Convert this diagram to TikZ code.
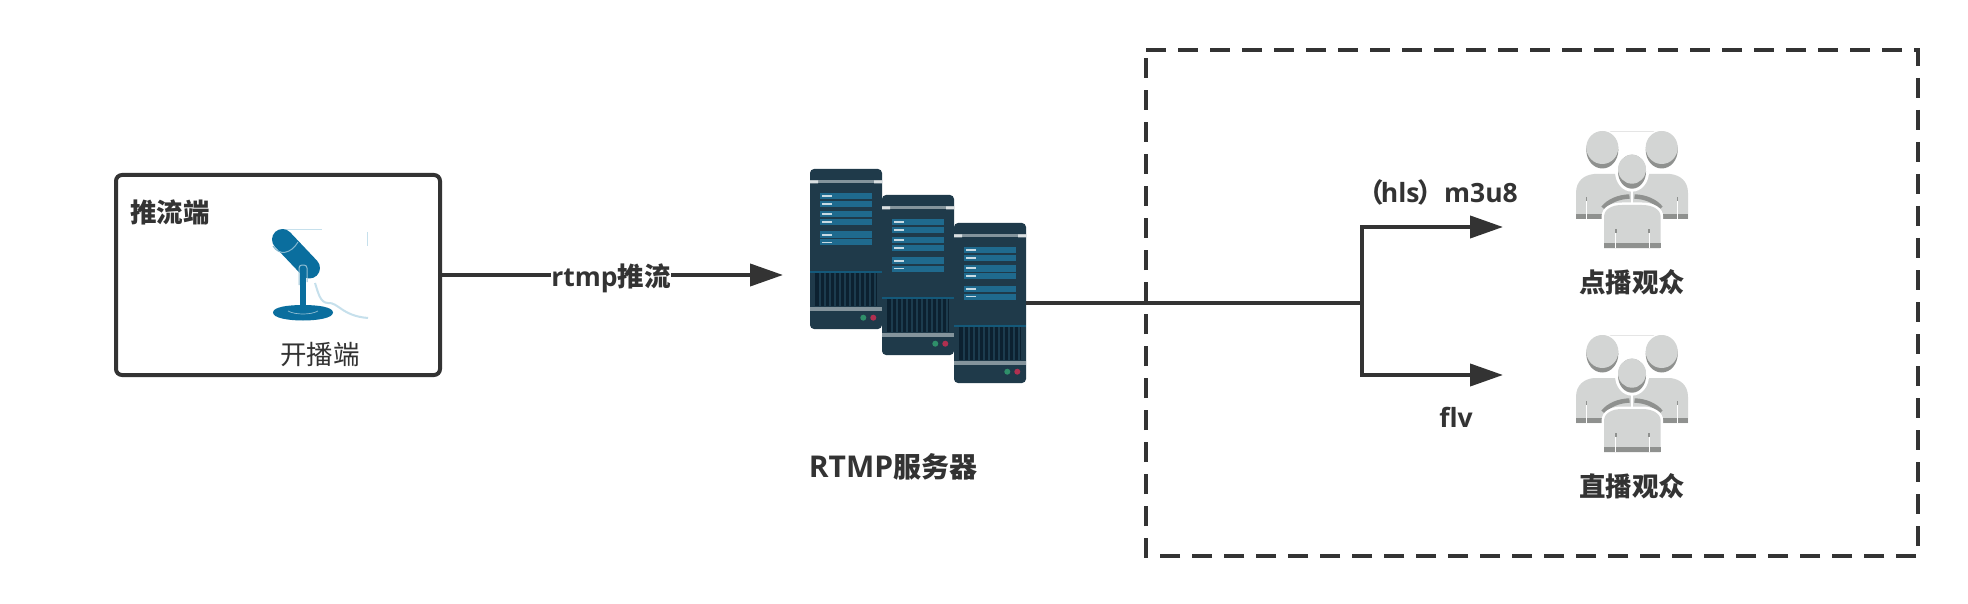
\documentclass[tikz,border=0pt]{standalone}
\usepackage{fontspec}
\usetikzlibrary{arrows.meta}
\setmainfont{Open Sans}
\newfontfamily\cjk{Noto Sans CJK SC}
\newfontfamily\latn{Open Sans}
\definecolor{ink}{HTML}{333333}
\definecolor{srvbody}{HTML}{1F3A4A}
\definecolor{srvband}{HTML}{84949C}
\definecolor{srvbar}{HTML}{1F6A8E}
\definecolor{srvline}{HTML}{14597A}
\definecolor{srvgrille}{HTML}{0C2130}
\definecolor{srvstripe}{HTML}{1C3C4E}
\definecolor{srvgreen}{HTML}{2F8F6A}
\definecolor{srvred}{HTML}{B03050}
\definecolor{micblue}{HTML}{0A6E9E}
\definecolor{micpale}{HTML}{C6E0EC}
\definecolor{pplight}{HTML}{D3D5D4}
\definecolor{ppdark}{HTML}{8F918F}
\tikzset{
  x=1pt,y=-1pt,
  link/.style={draw=ink,line width=4pt,line join=miter},
  arrowlink/.style={link,-{Triangle[length=33pt,width=22pt,color=ink]}},
  frame/.style={draw=ink,line width=4pt,dash pattern=on 20pt off 12pt},
  sourcebox/.style={draw=ink,line width=4pt,rounded corners=6pt,minimum width=324pt,minimum height=200pt,inner sep=0pt},
  srvbox/.style={fill=srvbody,rounded corners=4pt,minimum width=72pt,minimum height=160pt,inner sep=0pt},
  boldlabel/.style={text=ink,font=\fontsize{26.5}{30}\selectfont\bfseries,inner sep=0pt},
  plainlabel/.style={text=ink,font=\fontsize{26.5}{30}\selectfont,inner sep=0pt},
}
\newcommand{\serverart}[3]{%
\begin{scope}[shift={(#1,#2)}]
  \node[srvbox] (#3) at (36,80) {};
  \fill[srvband] (0,11.5) rectangle (72,14.5);
  \fill[white!70!srvband] (0,11.5) rectangle (8,14.5) (64,11.5) rectangle (72,14.5);
  \foreach \ya/\yb in {24/30.5,32/38,42/48.5,50/56,62.5/69,70.5/76.5}{
    \fill[srvbar] (10,\ya) rectangle (62,\yb);
    \fill[white!75!srvbar] (12,\ya+2.4) rectangle (22,\yb-2.4);
  }
  \fill[srvline] (0,101.7) rectangle (72,103.7);
  \fill[srvgrille] (5,104) rectangle (67,137);
  \foreach \xs in {9,14,...,64}{\fill[srvstripe] (\xs,104) rectangle (\xs+1.5,137);}
  \fill[srvband] (0,138) rectangle (72,142);
  \fill[srvgreen] (53.3,148.7) circle[radius=3];
  \fill[srvred] (63.3,148.7) circle[radius=3];
\end{scope}}
\newcommand{\crowdart}[3]{%
\begin{scope}[shift={(#1,#2)}]
  \coordinate (#3) at (56,58);
  \draw[black!10,line width=.8pt] (26,.4) -- (86,.4) (28,117.4) -- (84,117.4);
  % back torsos, meeting at the centre line
  \foreach \sx in {1,-1}{
  \begin{scope}[shift={(56,0)},xscale=\sx]
    \fill[pplight] (-56,88) -- (-56,62) .. controls (-56,50) and (-48,44) .. (-38,43) -- (-12,43) -- (-1.2,57) -- (-1.2,88) -- cycle;
    \fill[ppdark] (-56,83) rectangle (-27,88);
    \fill[white] (-46.2,66) rectangle (-44.8,88);
    \fill[ppdark] (-46.4,66) rectangle (-44.6,70);
  \end{scope}}
  % back heads
  \foreach \cx in {26.3,85.7}{
    \fill[white] (\cx,19) ellipse[x radius=18,y radius=20.5];
    \fill[ppdark] (\cx,19) ellipse[x radius=16,y radius=18.5];
    \fill[pplight] (\cx,16.5) ellipse[x radius=16,y radius=16.5];
  }
  % centre head
  \fill[white] (56,40.7) ellipse[x radius=17,y radius=20];
  \fill[ppdark] (56,40.7) ellipse[x radius=14,y radius=17];
  \fill[pplight] (56,38.2) ellipse[x radius=14,y radius=14.5];
  % shoulder shadows
  \draw[ppdark,line width=4.5pt] (27,77) .. controls (33,70) and (42,66) .. (53.5,65.5);
  \draw[ppdark,line width=4.5pt] (85,77) .. controls (79,70) and (70,66) .. (58.5,65.5);
  % white gap round the front figure
  \fill[white] (25.5,117.5) -- (25.5,86) .. controls (25.5,76) and (35,71.5) .. (46,71.5) -- (66,71.5) .. controls (77,71.5) and (87.2,76) .. (87.2,86) -- (87.2,117.5) -- cycle;
  % front torso
  \fill[pplight] (28,117) -- (28,86) .. controls (28,78) and (36,74) .. (46,74) -- (66,74) .. controls (76,74) and (84.7,78) .. (84.7,86) -- (84.7,117) -- cycle;
  \fill[ppdark] (28,112) rectangle (84.7,117);
  \foreach \xs in {39,72.5}{
    \fill[white] (\xs,98) rectangle (\xs+1.4,117);
    \fill[ppdark] (\xs-.2,98) rectangle (\xs+1.6,102);
  }
\end{scope}}
\begin{document}
\begin{tikzpicture}
\useasboundingbox[fill=white] (0,0) rectangle (1968,604);

% dashed frame
\draw[frame] (1146,50) -- (1918,50) -- (1918,556) -- (1146,556) -- cycle;

% source box
\node[sourcebox] (src) at (278,275) {};
\node[boldlabel] (srctitle) at (170,212) {\cjk 推流端};
\node[plainlabel] (srccap) at (320,354) {\cjk 开播端};

% microphone
\draw[micpale,line width=.8pt] (282,229) -- (322,229);
\draw[micpale,line width=.8pt] (367.5,232) -- (367.5,246);
\draw[micpale,line width=2pt] (315,283) .. controls (318,292) and (320,303) .. (328,303) .. controls (338,302) and (342,316) .. (368,318);
\fill[micblue] (273,312.5) .. controls (273,307) and (288,305) .. (303,305) .. controls (318,305) and (333,307) .. (333,312.5) .. controls (333,318) and (318,320.5) .. (303,320.5) .. controls (288,320.5) and (273,318) .. (273,312.5) -- cycle;
\draw[white!55!micblue,line width=.7pt] (288,311) .. controls (295,315) and (311,315) .. (318,311);
\draw[micblue,line width=21pt,line cap=round] (282.5,239.5) -- (309.5,268);
\draw[white!50!micblue,line width=1pt] (273,246) .. controls (279,256) and (291,254) .. (298,242);
\fill[micblue] (300,270) rectangle (306,312);
\draw[white!55!micblue,line width=1pt,rounded corners=3pt] (299,285) -- (299,265) -- (307,265) -- (307,282);

% servers
\serverart{810}{169}{srv1}
\serverart{882}{195}{srv2}
\serverart{954}{223}{srv3}
\node[boldlabel,font=\fontsize{30}{32}\selectfont\bfseries] (srvcap) at (893,467) {\latn RTMP\cjk\fontsize{28}{32}\selectfont 服务器};

% audiences
\crowdart{1576}{131}{crowd1}
\crowdart{1576}{335}{crowd2}
\node[boldlabel] (cap1) at (1632,282) {\cjk 点播观众};
\node[boldlabel] (cap2) at (1632,486) {\cjk 直播观众};

% connectors
\coordinate (rtmpend) at (783,275);
\coordinate (fork) at (1362,303);
\coordinate (upend) at (1503,227);
\coordinate (downend) at (1503,375);
\draw[arrowlink] (src.east) -- (rtmpend);
\node[boldlabel,fill=white] (rtmplabel) at (611,278) {\latn rtmp\cjk 推流};
\draw[link] (srv3.east) -- (fork);
\draw[arrowlink] (fork) -- (fork |- upend) -- (upend);
\draw[arrowlink] (fork) -- (fork |- downend) -- (downend);
\node[boldlabel,anchor=east] (hlslabel) at (1518,192) {\cjk （\kern-3pt\latn hls\kern-2pt\cjk ）\latn m3u8};
\node[boldlabel] (flvlabel) at (1456,417) {\latn flv};
\end{tikzpicture}
\end{document}
